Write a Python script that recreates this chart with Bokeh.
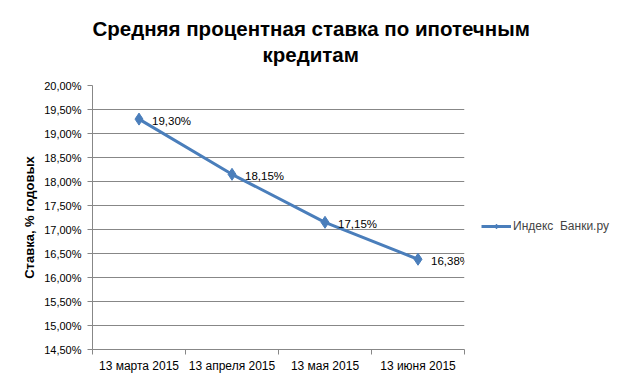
from bokeh.plotting import figure
from bokeh.models import (Range1d, FixedTicker, ColumnDataSource, Title, Legend, LegendItem)
from bokeh.core.properties import value
from bokeh.embed import file_html
from bokeh.resources import INLINE

# ---- data ----
categories = ["13 марта 2015", "13 апреля 2015", "13 мая 2015", "13 июня 2015"]
rates = [19.30, 18.15, 17.15, 16.38]
rate_labels = ["19,30%", "18,15%", "17,15%", "16,38%"]
y_ticks = [14.5, 15.0, 15.5, 16.0, 16.5, 17.0, 17.5, 18.0, 18.5, 19.0, 19.5, 20.0]
y_tick_labels = ["14,50%", "15,00%", "15,50%", "16,00%", "16,50%", "17,00%",
                 "17,50%", "18,00%", "18,50%", "19,00%", "19,50%", "20,00%"]
series_name = "Индекс  Банки.ру"
title_lines = ["Средняя процентная ставка по ипотечным", "кредитам"]
y_title = "Ставка, % годовых"

FONT = "Liberation Sans"
GRID = "#878787"
BLUE = "#4A7EBB"

x_pos = [i + 0.5 for i in range(len(categories))]

p = figure(width=615, height=375, output_backend="svg", toolbar_location=None,
           x_range=Range1d(0, len(categories)), y_range=Range1d(y_ticks[0], y_ticks[-1]),
           min_border_left=92, min_border_right=151, min_border_top=85, min_border_bottom=26,
           frame_width=372, frame_height=264)
p.outline_line_color = None
p.background_fill_color = "white"
p.border_fill_color = "white"

# x axis
p.xaxis.ticker = FixedTicker(ticks=x_pos, minor_ticks=list(range(len(categories) + 1)))
p.xaxis.major_label_overrides = {x: c for x, c in zip(x_pos, categories)}
p.xaxis.major_tick_line_color = None
p.xaxis.major_tick_out = 0
p.xaxis.major_tick_in = 0
p.xaxis.minor_tick_line_color = GRID
p.xaxis.minor_tick_out = 5
p.xaxis.minor_tick_in = 0
p.xaxis.axis_line_color = GRID
p.xaxis.major_label_standoff = 4
p.xaxis.major_label_text_font = FONT
p.xaxis.major_label_text_font_size = "12px"
p.xaxis.major_label_text_color = "black"
p.xgrid.grid_line_color = None

# y axis
p.yaxis.ticker = FixedTicker(ticks=y_ticks, minor_ticks=[])
p.yaxis.major_label_overrides = {t: l for t, l in zip(y_ticks, y_tick_labels)}
p.yaxis.major_tick_line_color = GRID
p.yaxis.major_tick_out = 5
p.yaxis.major_tick_in = 0
p.yaxis.axis_line_color = GRID
p.yaxis.major_label_standoff = 6
p.yaxis.major_label_text_font = FONT
p.yaxis.major_label_text_font_size = "11px"
p.yaxis.major_label_text_color = "black"
p.yaxis.axis_label = y_title
p.yaxis.axis_label_text_font = FONT
p.yaxis.axis_label_text_font_size = "13px"
p.yaxis.axis_label_text_font_style = "bold"
p.yaxis.axis_label_text_color = "black"
p.yaxis.axis_label_standoff = 4
p.ygrid.grid_line_color = GRID
p.ygrid.grid_line_width = 1

src = ColumnDataSource(dict(x=x_pos, y=rates, lab=rate_labels))
ln = p.line("x", "y", source=src, line_color=BLUE, line_width=3)
mk = p.scatter("x", "y", source=src, marker="diamond", size=12,
               fill_color=BLUE, line_color=BLUE)
p.text("x", "y", text="lab", source=src, x_offset=13, y_offset=2,
       text_font=value(FONT), text_font_size="11.5px", text_color="black",
       text_baseline="middle", text_align="left")

legend = Legend(items=[LegendItem(label=series_name, renderers=[ln, mk])],
                location=(17, 116), orientation="vertical",
                label_text_font=FONT, label_text_font_size="12px",
                glyph_width=30, glyph_height=12, label_standoff=2, padding=2,
                border_line_color=None, background_fill_alpha=0, margin=0)
p.add_layout(legend, "right")

# title: two lines centred over the chart (second line nearest the plot)
title_offsets = [170, 0]
title_standoffs = [39, -36]
for t, off, so in zip(reversed(title_lines), title_offsets, title_standoffs):
    p.add_layout(Title(text=t, align="left", offset=off, text_font=FONT,
                       text_font_size="20.5px", text_font_style="bold",
                       text_color="black", standoff=so, text_line_height=1.0), "above")

open("out.html", "w").write(file_html(p, INLINE))
